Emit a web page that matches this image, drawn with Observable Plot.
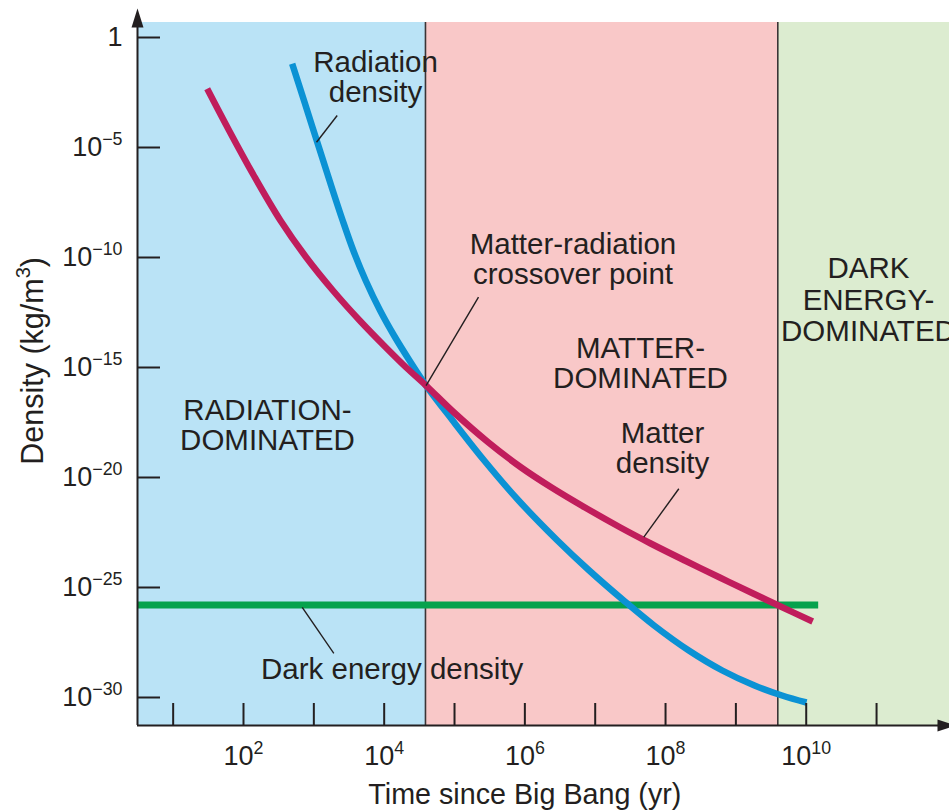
<!DOCTYPE html>
<html>
<head>
<meta charset="utf-8">
<script src="https://cdn.jsdelivr.net/npm/d3@7"></script>
<script src="https://cdn.jsdelivr.net/npm/@observablehq/plot@0.6"></script>
<style>
  html, body { margin: 0; padding: 0; background: #ffffff; }
  #chart svg { display: block; }
</style>
</head>
<body>
<div id="chart"></div>
<script>
// ---------- data (log10 of time in years, log10 of density in kg/m^3) ----------
const radiationLogTime = [2.692, 2.860, 3.041, 3.223, 3.410, 3.561, 3.737, 3.942, 4.140, 4.360, 4.595, 4.973, 5.422, 5.911, 6.463, 6.915, 7.405, 7.837, 8.331, 8.807, 9.265, 9.656, 10.004];
const radiationLogDensity = [-1.195, -2.864, -4.682, -6.500, -8.318, -9.682, -11.045, -12.409, -13.545, -14.682, -15.820, -17.409, -19.227, -21.045, -22.864, -24.227, -25.591, -26.727, -27.864, -28.773, -29.455, -29.909, -30.227];

const matterLogTime = [1.484, 1.795, 2.146, 2.525, 2.893, 3.271, 3.652, 4.024, 4.313, 4.595, 4.993, 5.483, 5.948, 6.380, 6.855, 7.358, 7.789, 8.274, 8.771, 9.246, 9.606, 10.092];
const matterLogDensity = [-2.332, -4.227, -6.273, -8.318, -10.000, -11.500, -12.864, -14.091, -15.000, -15.820, -17.045, -18.409, -19.545, -20.455, -21.364, -22.273, -23.000, -23.773, -24.545, -25.273, -25.818, -26.545];

const darkEnergyLogTime = [0.493, 10.17];
const darkEnergyLogDensity = [-25.79, -25.79];

const eraLabels = ["RADIATION-\nDOMINATED", "MATTER-\nDOMINATED", "DARK\nENERGY-\nDOMINATED"];
const eraStartLogTime = [0.493, 4.587, 9.596];
const eraEndLogTime = [4.587, 9.596, 12.037];
const eraColors = ["#bae3f6", "#f9c8c8", "#dcecd0"];

const xTickExponents = [1, 2, 3, 4, 5, 6, 7, 8, 9, 10, 11];
const xLabelExponents = [2, 4, 6, 8, 10];
const yTickExponents = [0, -5, -10, -15, -20, -25, -30];

const crossoverLogTime = 4.595;
const crossoverLogDensity = -15.82;

// ---------- helpers ----------
const p10 = (e) => Math.pow(10, e);
const xMinLog = 0.493, xMaxLog = 12.037;
const yMinLog = -31.273, yMaxLog = 0.682;

const radiation = radiationLogTime.map((t, i) => ({t: p10(t), rho: p10(radiationLogDensity[i])}));
const matter = matterLogTime.map((t, i) => ({t: p10(t), rho: p10(matterLogDensity[i])}));
const darkEnergy = darkEnergyLogTime.map((t, i) => ({t: p10(t), rho: p10(darkEnergyLogDensity[i])}));
const eras = eraLabels.map((name, i) => ({name, x1: p10(eraStartLogTime[i]), x2: p10(eraEndLogTime[i]), fill: eraColors[i]}));

// annotation labels (anchored in data coordinates)
const labels = [
  {text: "Radiation\ndensity", t: 3.877, r: -1.83, lh: 1.0},
  {text: "Matter-radiation\ncrossover point", t: 6.684, r: -10.07, lh: 1.017},
  {text: eraLabels[1], t: 7.644, r: -14.80, lh: 1.017},
  {text: eraLabels[0], t: 2.341, r: -17.62, lh: 1.017},
  {text: "Matter\ndensity", t: 7.957, r: -18.66, lh: 1.017},
  {text: eraLabels[2], t: 10.885, r: -11.91, lh: 1.068},
  {text: "Dark energy density", t: 4.114, r: -28.71, lh: 1.0}
];
const leaders = [
  {t1: 3.332, r1: -3.545, t2: 3.038, r2: -4.759},
  {t1: 5.341, r1: -11.80, t2: crossoverLogTime, r2: crossoverLogDensity},
  {t1: 8.189, r1: -20.51, t2: 7.691, r2: -22.71},
  {t1: 2.835, r1: -25.90, t2: 3.284, r2: -27.99}
];

const ink = "#231f20";
const W = 949, H = 810, mL = 137, mR = 0, mT = 22, mB = 85;
const plotW = W - mL - mR, plotH = H - mT - mB;

const arrowHead = {
  draw(ctx) {
    ctx.moveTo(0, -19);
    ctx.lineTo(6, 0);
    ctx.lineTo(-6, 0);
    ctx.closePath();
  }
};

const fontFamily = "'Liberation Sans', Arial, Helvetica, sans-serif";
const annFont = 29.5;

const chart = Plot.plot({
  width: W,
  height: H,
  marginLeft: mL,
  marginRight: mR,
  marginTop: mT,
  marginBottom: mB,
  style: {fontFamily, background: "#ffffff", color: ink},
  x: {type: "log", domain: [p10(xMinLog), p10(xMaxLog)], axis: null},
  y: {type: "log", domain: [p10(yMinLog), p10(yMaxLog)], axis: null},
  color: {type: "identity"},
  marks: [
    // era backgrounds
    Plot.rect(eras, {x1: "x1", x2: "x2", y1: () => p10(yMinLog), y2: () => p10(yMaxLog), fill: "fill"}),
    // era boundaries
    Plot.ruleX(eraStartLogTime.slice(1), {x: (d) => p10(d), stroke: "#3a3536", strokeWidth: 1.6}),
    // curves
    Plot.line(darkEnergy, {x: "t", y: "rho", stroke: "#06a24d", strokeWidth: 7, strokeLinecap: "butt"}),
    Plot.line(radiation, {x: "t", y: "rho", stroke: "#0b92d4", strokeWidth: 6.5, curve: "catmull-rom", strokeLinecap: "butt"}),
    Plot.line(matter, {x: "t", y: "rho", stroke: "#c01d5c", strokeWidth: 6.5, curve: "catmull-rom", strokeLinecap: "butt"}),
    // leader lines
    Plot.link(leaders, {x1: (d) => p10(d.t1), y1: (d) => p10(d.r1), x2: (d) => p10(d.t2), y2: (d) => p10(d.r2), stroke: ink, strokeWidth: 1.4}),
    // annotations
    ...labels.map((l) => Plot.text([l], {x: (d) => p10(d.t), y: (d) => p10(d.r), text: "text", fontSize: annFont, lineHeight: l.lh, fill: ink, textAnchor: "middle"})),
    // axes lines
    Plot.ruleY([p10(yMinLog)], {stroke: ink, strokeWidth: 2}),
    Plot.ruleX([p10(xMinLog)], {y1: () => p10(yMinLog), y2: () => p10(0.455), stroke: ink, strokeWidth: 2}),
    // ticks
    Plot.tickX(xTickExponents, {x: (d) => p10(d), insetTop: plotH - 22, stroke: ink, strokeWidth: 2}),
    Plot.tickY(yTickExponents, {y: (d) => p10(d), insetRight: plotW - 23, stroke: ink, strokeWidth: 2}),
    // arrow heads
    Plot.dot([0], {x: () => p10(xMinLog), y: () => p10(0.455), symbol: arrowHead, fill: ink, stroke: "none", r: 6}),
    Plot.dot([0], {x: () => p10(11.866), y: () => p10(yMinLog), symbol: arrowHead, fill: ink, stroke: "none", r: 6, rotate: 90}),
    // tick labels
    Plot.text(xLabelExponents, {x: (d) => p10(d), y: () => p10(yMinLog), text: (d) => `10{${d}}`, dy: 31, fontSize: 27, fill: ink}),
    Plot.text(yTickExponents, {x: () => p10(xMinLog), y: (d) => p10(d), text: (d) => d === 0 ? "1" : `10{\u2212${-d}}`, dx: -15, textAnchor: "end", fontSize: 27, fill: ink}),
    // axis titles
    Plot.text(["Time since Big Bang (yr)"], {x: () => p10(6), y: () => p10(yMinLog), text: (d) => d, dy: 69, fontSize: 28.7, fill: ink}),
    Plot.text(["Density (kg/m{3})"], {x: () => p10(xMinLog), y: () => p10(-14.7), text: (d) => d, dx: -104, rotate: -90, fontSize: 30.5, fill: ink})
  ]
});

// superscripts: convert {...} into raised tspans
d3.select(chart).selectAll("text").each(function () {
  const el = this;
  if (el.querySelector("tspan")) return;
  const s = el.textContent;
  if (!s.includes("{")) return;
  el.textContent = "";
  const parts = s.split(/(\{[^}]*\})/).filter((p) => p.length);
  let raised = false;
  for (const p of parts) {
    const ts = d3.select(el).append("tspan");
    if (p.startsWith("{")) {
      ts.text(p.slice(1, -1)).attr("font-size", "0.66em").attr("dy", "-0.65em");
      raised = true;
    } else {
      ts.text(p);
      if (raised) { ts.attr("dy", "0.43em"); raised = false; }
    }
  }
});

document.getElementById("chart").appendChild(chart);
</script>
</body>
</html>
